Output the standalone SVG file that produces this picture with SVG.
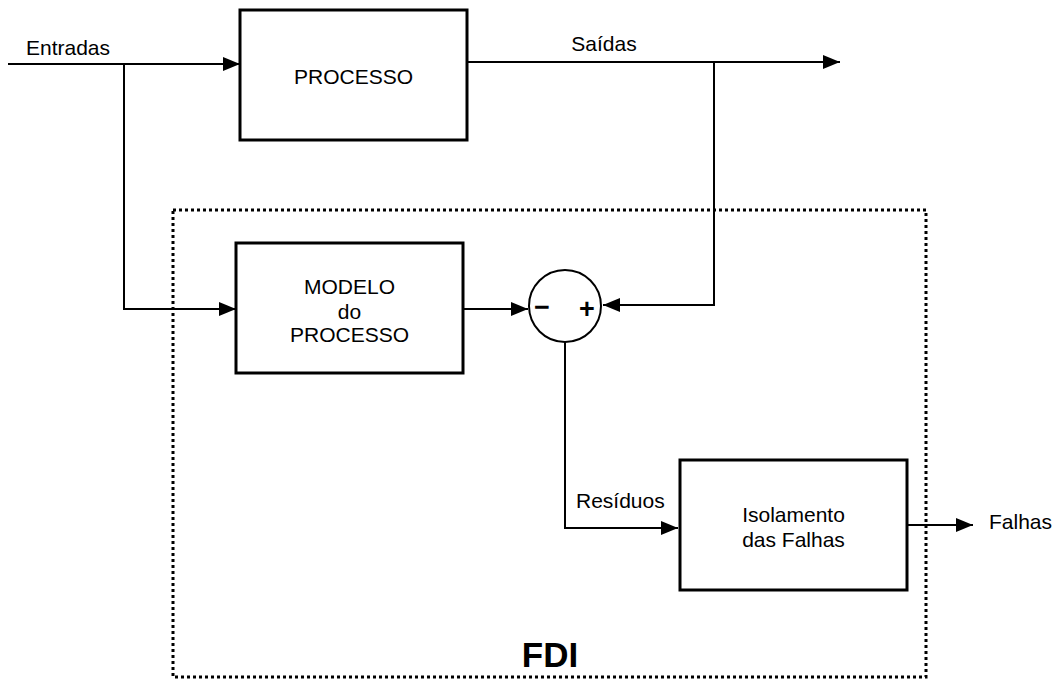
<svg xmlns="http://www.w3.org/2000/svg" width="1056" height="680" viewBox="0 0 1056 680">
  <style>
    .box { fill: #ffffff; stroke: #000000; stroke-width: 3; }
    .wire { fill: none; stroke: #000000; stroke-width: 2; }
    .lbl { font-family: "Liberation Sans", Arial, sans-serif; font-size: 21px; fill: #000000; }
    .sign { font-family: "Liberation Sans", Arial, sans-serif; font-size: 27px; font-weight: bold; fill: #000000; }
    .title { font-family: "Liberation Sans", Arial, sans-serif; font-size: 35px; font-weight: bold; fill: #000000; }
  </style>
  <defs>
    <marker id="arrow" viewBox="0 0 17 14" refX="17" refY="7" markerWidth="17" markerHeight="14" markerUnits="userSpaceOnUse" orient="auto">
      <path d="M0,0 L17,7 L0,14 Z" fill="#000000"/>
    </marker>
  </defs>
  <rect width="1056" height="680" fill="#ffffff"/>

  <!-- FDI boundary -->
  <g id="fdi">
    <rect x="173" y="210" width="753" height="467" fill="none" stroke="#000000" stroke-width="3" stroke-dasharray="3 3"/>
    <text class="title" x="550" y="667" text-anchor="middle">FDI</text>
  </g>

  <g id="connectors">
    <!-- inputs into process and into the model -->
    <path class="wire" d="M8,64 L240,64" marker-end="url(#arrow)"/>
    <path class="wire" d="M124,64 L124,309 L236,309" marker-end="url(#arrow)"/>
    <!-- outputs -->
    <path class="wire" d="M467,62 L840,62" marker-end="url(#arrow)"/>
    <path class="wire" d="M714,62 L714,305 L603,305" marker-end="url(#arrow)"/>
    <!-- model output into comparator -->
    <path class="wire" d="M463,309 L528,309" marker-end="url(#arrow)"/>
    <!-- residuals -->
    <path class="wire" d="M565,342 L565,528 L678,528" marker-end="url(#arrow)"/>
    <!-- faults -->
    <path class="wire" d="M907,525 L973,525" marker-end="url(#arrow)"/>
  </g>

  <g id="labels">
    <text class="lbl" x="26" y="55">Entradas</text>
    <text class="lbl" x="604" y="51" text-anchor="middle">Saídas</text>
    <text class="lbl" x="576" y="508">Resíduos</text>
    <text class="lbl" x="989" y="529">Falhas</text>
  </g>

  <g id="processo">
    <rect class="box" x="240" y="10" width="227" height="130"/>
    <text class="lbl" x="353.5" y="84" text-anchor="middle">PROCESSO</text>
  </g>

  <g id="modelo">
    <rect class="box" x="236" y="243" width="227" height="130"/>
    <text class="lbl" x="349.5" y="294" text-anchor="middle">MODELO</text>
    <text class="lbl" x="349.5" y="319" text-anchor="middle">do</text>
    <text class="lbl" x="349.5" y="342" text-anchor="middle">PROCESSO</text>
  </g>

  <g id="somador">
    <circle cx="565" cy="306" r="36" fill="#ffffff" stroke="#000000" stroke-width="2"/>
    <text class="sign" x="542" y="316" text-anchor="middle">−</text>
    <text class="sign" x="587" y="318" text-anchor="middle">+</text>
  </g>

  <g id="isolamento">
    <rect class="box" x="680" y="460" width="227" height="130"/>
    <text class="lbl" x="793.5" y="522" text-anchor="middle">Isolamento</text>
    <text class="lbl" x="793.5" y="547" text-anchor="middle">das Falhas</text>
  </g>
</svg>
